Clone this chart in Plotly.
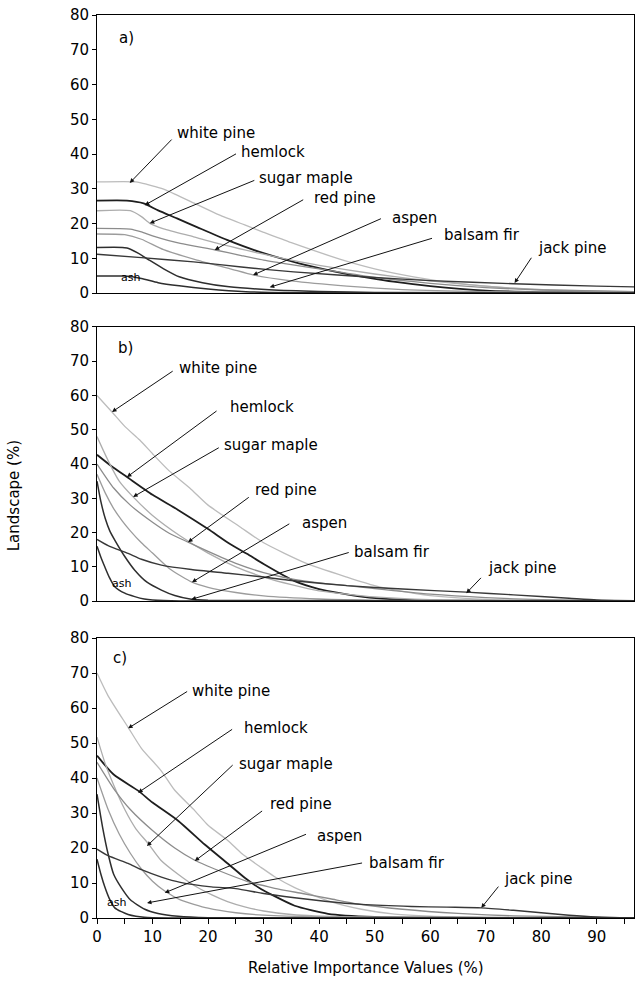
import plotly.graph_objects as go

# ---------------- data ----------------
species = ["white pine", "hemlock", "sugar maple", "red pine", "aspen", "balsam fir", "jack pine", "ash"]
panels = ["a)", "b)", "c)"]
x_ticks = [0, 10, 20, 30, 40, 50, 60, 70, 80, 90]
y_ticks = [0, 10, 20, 30, 40, 50, 60, 70, 80]

# panel a)
a_white_pine_x = [0, 7, 9, 11.6, 14, 17.6, 22, 26.6, 30, 35, 43.7, 50, 57, 65, 75, 85, 97]
a_white_pine_y = [32, 32, 31.3, 30.1, 28.5, 25.8, 22.5, 19.6, 17.5, 14.5, 9.8, 7, 4.7, 2.8, 1.4, 0.7, 0.3]
a_hemlock_x = [0, 5.4, 8.4, 11, 14.4, 18, 23.4, 29, 35.4, 40, 44.4, 49, 53.4, 60, 70, 80, 97]
a_hemlock_y = [26.6, 26.6, 25.8, 23.8, 21.5, 19, 15.3, 12, 9, 7.2, 5.7, 4.4, 3.3, 2, 0.7, 0.3, 0.1]
a_sugar_maple_x = [0, 6, 8, 9.6, 12, 17.4, 23, 29.4, 35, 40, 50, 60, 70, 80, 97]
a_sugar_maple_y = [23.7, 23.7, 22, 20, 18.5, 16.2, 13.8, 11.4, 9.5, 8, 5.5, 3.5, 2, 1, 0.4]
a_red_pine_x = [0, 6, 8, 10, 15, 21.3, 26, 30, 35, 40, 50, 60, 70, 80, 97]
a_red_pine_y = [18.6, 18.4, 17.6, 16.5, 14.3, 12.4, 10.8, 9.5, 8.2, 7, 4.5, 2.8, 1.6, 0.9, 0.4]
a_aspen_x = [0, 5, 8, 12, 18, 24, 28.2, 35, 45, 55, 70, 97]
a_aspen_y = [17, 16.8, 15.5, 12.5, 9.5, 7, 5.2, 3.5, 2, 1, 0.4, 0.1]
a_balsam_fir_x = [0, 5.4, 7.4, 9.4, 12, 14.8, 19, 23.8, 31, 40, 50, 97]
a_balsam_fir_y = [13.1, 13, 11.5, 9.5, 7, 4.7, 3, 1.8, 1, 0.5, 0.2, 0]
a_jack_pine_x = [0, 8, 17.4, 26, 35.4, 50, 60, 75, 90, 97]
a_jack_pine_y = [11.2, 10.2, 9, 7.5, 6.1, 4.5, 3.6, 2.7, 2, 1.8]
a_ash_x = [0, 5, 8, 11, 14.8, 20, 26.8, 35, 97]
a_ash_y = [4.9, 4.9, 4.2, 3, 2.1, 1.2, 0.4, 0.1, 0]

# panel b)
b_white_pine_x = [0, 2.7, 5, 7.7, 10, 13, 16.7, 20, 25.7, 30, 37.7, 45, 50, 55, 60, 70, 80, 97]
b_white_pine_y = [60, 55.2, 51, 47, 43, 38, 33, 28, 21.7, 17, 11, 7, 4.5, 2.8, 1.6, 0.5, 0.2, 0]
b_hemlock_x = [0, 2.5, 5.4, 10, 14.6, 20, 23.6, 27, 30, 35.6, 40, 47.6, 55, 65, 97]
b_hemlock_y = [42.7, 39.5, 36.2, 31, 26.6, 21, 17, 13.8, 10.8, 5.8, 3.5, 1.3, 0.4, 0.1, 0]
b_sugar_maple_x = [0, 2, 4, 6.5, 10, 15, 20, 25, 30, 35, 40, 50, 60, 97]
b_sugar_maple_y = [48, 41, 35, 30.4, 25, 19, 14, 10, 7, 4.8, 3, 1.2, 0.4, 0]
b_red_pine_x = [0, 3, 6, 10, 13, 16.4, 20, 25, 30, 35, 40, 45, 50, 60, 70, 80, 97]
b_red_pine_y = [40, 33, 28, 23, 19.8, 17.2, 14.5, 11, 8.3, 6.5, 5.3, 4.5, 3.6, 2, 1, 0.4, 0]
b_aspen_x = [0, 1.5, 3, 4.5, 6, 8, 10, 13, 17.1, 20, 25, 30, 40, 50, 97]
b_aspen_y = [37, 31.5, 27, 23.5, 20.5, 17, 14, 9.5, 5.5, 4, 2.5, 1.5, 0.6, 0.2, 0]
b_balsam_fir_x = [0, 0.7, 1.5, 2.3, 3.2, 5, 6.8, 9, 11.6, 14, 17, 20, 97]
b_balsam_fir_y = [35, 29, 24, 20.5, 17.8, 13, 9, 5.5, 3.2, 1.6, 0.5, 0.2, 0]
b_jack_pine_x = [0, 2, 5.6, 8, 11.6, 17, 23.6, 30, 35, 45, 55, 66.5, 75, 85, 90, 97]
b_jack_pine_y = [18, 16.2, 13.9, 12.2, 10.5, 9.2, 8.1, 7, 6, 4.5, 3.5, 2.6, 1.8, 0.8, 0.3, 0.1]
b_ash_x = [0, 0.7, 1.4, 2.2, 3.2, 5, 6.8, 8.5, 10, 15, 97]
b_ash_y = [16, 12.8, 10, 7, 4.2, 2.3, 1.3, 0.6, 0.3, 0, 0]

# panel c)
c_white_pine_x = [0, 2, 5.6, 8, 11.6, 14, 17.6, 20, 23.6, 26, 29.6, 32, 35.6, 41.6, 47.6, 53.6, 60, 70, 80, 97]
c_white_pine_y = [70, 63.5, 54.5, 48.5, 42, 36.5, 30.7, 26.5, 22.1, 18.5, 14.4, 11.8, 8.7, 4.9, 2.5, 1.1, 0.5, 0.2, 0.1, 0]
c_hemlock_x = [0, 3, 7.4, 10, 14.6, 19.4, 23.6, 26.6, 29.6, 31.4, 35.6, 41.6, 50, 60, 97]
c_hemlock_y = [46.4, 41, 36.4, 33, 27.8, 21, 15.5, 11.5, 8.2, 6.7, 3.5, 1.2, 0.3, 0.1, 0]
c_sugar_maple_x = [0, 1.5, 3, 5, 7, 9.2, 11.5, 14.6, 17.5, 20.6, 23.5, 26.6, 30, 35, 45, 97]
c_sugar_maple_y = [51.7, 44, 38, 31, 25.5, 21.3, 16.5, 12.5, 9.3, 6.7, 4.7, 3.2, 2, 1, 0.3, 0]
c_red_pine_x = [0, 3, 6, 10, 14, 17.6, 22, 27, 32, 37, 42, 47, 55, 65, 75, 97]
c_red_pine_y = [44.5, 37, 31, 25, 20, 16.5, 13.5, 10.5, 8.5, 7, 5.5, 4, 2.5, 1.3, 0.6, 0]
c_aspen_x = [0, 2, 4, 6, 8, 10, 12.2, 15, 20, 25, 30, 40, 97]
c_aspen_y = [40, 31, 24, 18.5, 14, 10.5, 7.7, 5.2, 2.8, 1.5, 0.8, 0.3, 0]
c_balsam_fir_x = [0, 1, 2, 3, 4.4, 6, 8.6, 11, 14.6, 20, 97]
c_balsam_fir_y = [35.4, 26, 18.3, 12.5, 8.6, 5.2, 2.5, 1.3, 0.5, 0.1, 0]
c_jack_pine_x = [0, 2, 5.6, 8, 11.6, 15, 20.6, 25, 30, 35.6, 41, 47.6, 56.6, 63, 69.2, 75, 80, 85, 90, 97]
c_jack_pine_y = [19.7, 17.8, 15.6, 13.8, 11.7, 10.2, 8.9, 8.4, 7, 5.8, 4.8, 3.9, 3.3, 3.1, 2.9, 2.2, 1.5, 0.8, 0.3, 0]
c_ash_x = [0, 0.7, 1.4, 2.2, 3.2, 4.4, 5.6, 7, 8.5, 10, 15, 97]
c_ash_y = [16.8, 12.5, 8.9, 5.6, 2.9, 1.8, 1, 0.5, 0.2, 0.1, 0, 0]

series = {
    0: [(a_white_pine_x, a_white_pine_y), (a_hemlock_x, a_hemlock_y), (a_sugar_maple_x, a_sugar_maple_y),
        (a_red_pine_x, a_red_pine_y), (a_aspen_x, a_aspen_y), (a_balsam_fir_x, a_balsam_fir_y),
        (a_jack_pine_x, a_jack_pine_y), (a_ash_x, a_ash_y)],
    1: [(b_white_pine_x, b_white_pine_y), (b_hemlock_x, b_hemlock_y), (b_sugar_maple_x, b_sugar_maple_y),
        (b_red_pine_x, b_red_pine_y), (b_aspen_x, b_aspen_y), (b_balsam_fir_x, b_balsam_fir_y),
        (b_jack_pine_x, b_jack_pine_y), (b_ash_x, b_ash_y)],
    2: [(c_white_pine_x, c_white_pine_y), (c_hemlock_x, c_hemlock_y), (c_sugar_maple_x, c_sugar_maple_y),
        (c_red_pine_x, c_red_pine_y), (c_aspen_x, c_aspen_y), (c_balsam_fir_x, c_balsam_fir_y),
        (c_jack_pine_x, c_jack_pine_y), (c_ash_x, c_ash_y)],
}

# ---------------- styles & layout ----------------
line_styles = {
    "white pine": ("#bcbcbc", 1.3),
    "hemlock": ("#1e1e1e", 1.8),
    "sugar maple": ("#adadad", 1.3),
    "red pine": ("#8c8c8c", 1.3),
    "aspen": ("#9c9c9c", 1.3),
    "balsam fir": ("#2e2e2e", 1.5),
    "jack pine": ("#383838", 1.4),
    "ash": ("#2e2e2e", 1.5),
}

# label (text left x, text y), arrow tail (x, y), arrow tip (x, y) in data units
labels = {
    0: {"white pine": ((14.0, 46.0), (13.7, 44.6), (5.9, 31.7)),
        "hemlock": ((25.5, 40.6), (25.3, 40.3), (8.6, 25.3)),
        "sugar maple": ((28.8, 33.1), (28.6, 32.6), (9.5, 20.1)),
        "red pine": ((38.7, 27.3), (37.4, 27.1), (21.2, 12.4)),
        "aspen": ((52.7, 21.6), (51.4, 21.6), (28.1, 5.2)),
        "balsam fir": ((62.2, 16.7), (60.6, 15.9), (31.1, 1.7)),
        "jack pine": ((79.1, 12.9), (78.4, 10.6), (75.2, 2.9))},
    1: {"white pine": ((14.4, 68.0), (13.9, 67.4), (2.7, 55.2)),
        "hemlock": ((23.6, 56.6), (21.8, 55.8), (5.4, 36.2)),
        "sugar maple": ((22.5, 45.5), (22.2, 45.0), (6.5, 30.4)),
        "red pine": ((28.1, 32.4), (27.6, 30.6), (16.4, 17.2)),
        "aspen": ((36.5, 22.8), (34.9, 22.8), (17.1, 5.5)),
        "balsam fir": ((45.9, 14.3), (45.6, 14.3), (17.0, 0.5)),
        "jack pine": ((70.1, 9.6), (69.4, 7.2), (66.5, 2.3))},
    2: {"white pine": ((16.7, 65.0), (16.5, 65.0), (5.6, 54.2)),
        "hemlock": ((26.1, 54.4), (24.6, 54.2), (7.4, 35.8)),
        "sugar maple": ((25.2, 44.1), (24.7, 44.1), (9.0, 20.6)),
        "red pine": ((30.8, 32.7), (30.0, 30.9), (17.6, 16.3)),
        "aspen": ((39.2, 23.5), (37.9, 24.1), (12.2, 7.2)),
        "balsam fir": ((48.6, 15.8), (48.0, 15.8), (9.0, 4.3)),
        "jack pine": ((73.0, 11.2), (72.5, 9.4), (69.2, 2.9))},
}
ash_pos = {0: (4.0, 4.4), 1: (2.3, 5.0), 2: (1.4, 4.4)}
panel_label_pos = {0: (3.6, 73.4), 1: (3.5, 73.9), 2: (2.6, 74.2)}

domains = [[0.692, 1.0], [0.351, 0.6545], [0.0, 0.31]]
FONT = "DejaVu Sans"
X_MAX = 96.7

fig = go.Figure()
for p in range(3):
    xa = "x" if p == 0 else f"x{p + 1}"
    ya = "y" if p == 0 else f"y{p + 1}"
    for name, (xs, ys) in zip(species, series[p]):
        col, w = line_styles[name]
        fig.add_trace(go.Scatter(x=xs, y=ys, mode="lines", name=name, showlegend=False,
                                 line=dict(color=col, width=w, shape="spline", smoothing=0.6),
                                 xaxis=xa, yaxis=ya, hoverinfo="skip"))

    xkey = "xaxis" if p == 0 else f"xaxis{p + 1}"
    ykey = "yaxis" if p == 0 else f"yaxis{p + 1}"
    xdict = dict(range=[0, X_MAX], domain=[0, 1], anchor=ya, showgrid=False, automargin=False,
                 zeroline=False, showline=True, linecolor="black", linewidth=1, mirror=True)
    if p == 2:
        xdict.update(tickvals=x_ticks, ticks="outside", ticklen=5, tickcolor="black",
                     tickfont=dict(family=FONT, size=15, color="black"),
                     minor=dict(dtick=5, tick0=0, ticks="outside", ticklen=5, tickcolor="black"))
    else:
        xdict.update(showticklabels=False, ticks="")
    ydict = dict(range=[0, 80], domain=domains[p], anchor=xa, tickvals=y_ticks, ticks="outside",
                 ticklen=4, tickcolor="black", showgrid=False, zeroline=False, showline=True,
                 linecolor="black", linewidth=1, mirror=True, automargin=False,
                 tickfont=dict(family=FONT, size=15, color="black"))
    fig.update_layout({xkey: xdict, ykey: ydict})

annotations = []
for p in range(3):
    xr = "x" if p == 0 else f"x{p + 1}"
    yr = "y" if p == 0 else f"y{p + 1}"
    px, py = panel_label_pos[p]
    annotations.append(dict(x=px, y=py, xref=xr, yref=yr, text=panels[p], showarrow=False,
                            xanchor="left", yanchor="middle",
                            font=dict(family=FONT, size=15, color="black")))
    for name, ((tx, ty), (ax, ay), (hx, hy)) in labels[p].items():
        annotations.append(dict(x=tx, y=ty, xref=xr, yref=yr, text=name, showarrow=False,
                                xanchor="left", yanchor="middle",
                                font=dict(family=FONT, size=15, color="black")))
        annotations.append(dict(x=hx, y=hy, xref=xr, yref=yr, ax=ax, ay=ay, axref=xr, ayref=yr,
                                text="", showarrow=True, arrowhead=2, arrowsize=0.9, arrowwidth=1,
                                arrowcolor="#111111", standoff=0, startstandoff=0))
    sx, sy = ash_pos[p]
    annotations.append(dict(x=sx, y=sy, xref=xr, yref=yr, text="ash", showarrow=False,
                            xanchor="left", yanchor="middle",
                            font=dict(family=FONT, size=11, color="black")))

annotations.append(dict(x=-0.153, y=0.468, xref="paper", yref="paper", text="Landscape (%)",
                        textangle=-90, showarrow=False, xanchor="center", yanchor="middle",
                        font=dict(family=FONT, size=15, color="black")))
annotations.append(dict(x=0.501, y=-0.0554, xref="paper", yref="paper",
                        text="Relative Importance Values (%)", showarrow=False,
                        xanchor="center", yanchor="middle",
                        font=dict(family=FONT, size=15, color="black")))

fig.update_layout(width=637, height=985, margin=dict(l=97, r=3, t=15, b=67, autoexpand=False),
                  plot_bgcolor="white", paper_bgcolor="white", annotations=annotations,
                  showlegend=False)

fig.write_html("out.html", config={"displayModeBar": False, "staticPlot": True},
               post_script="document.body.style.margin='0px';document.body.style.overflow='hidden';")
